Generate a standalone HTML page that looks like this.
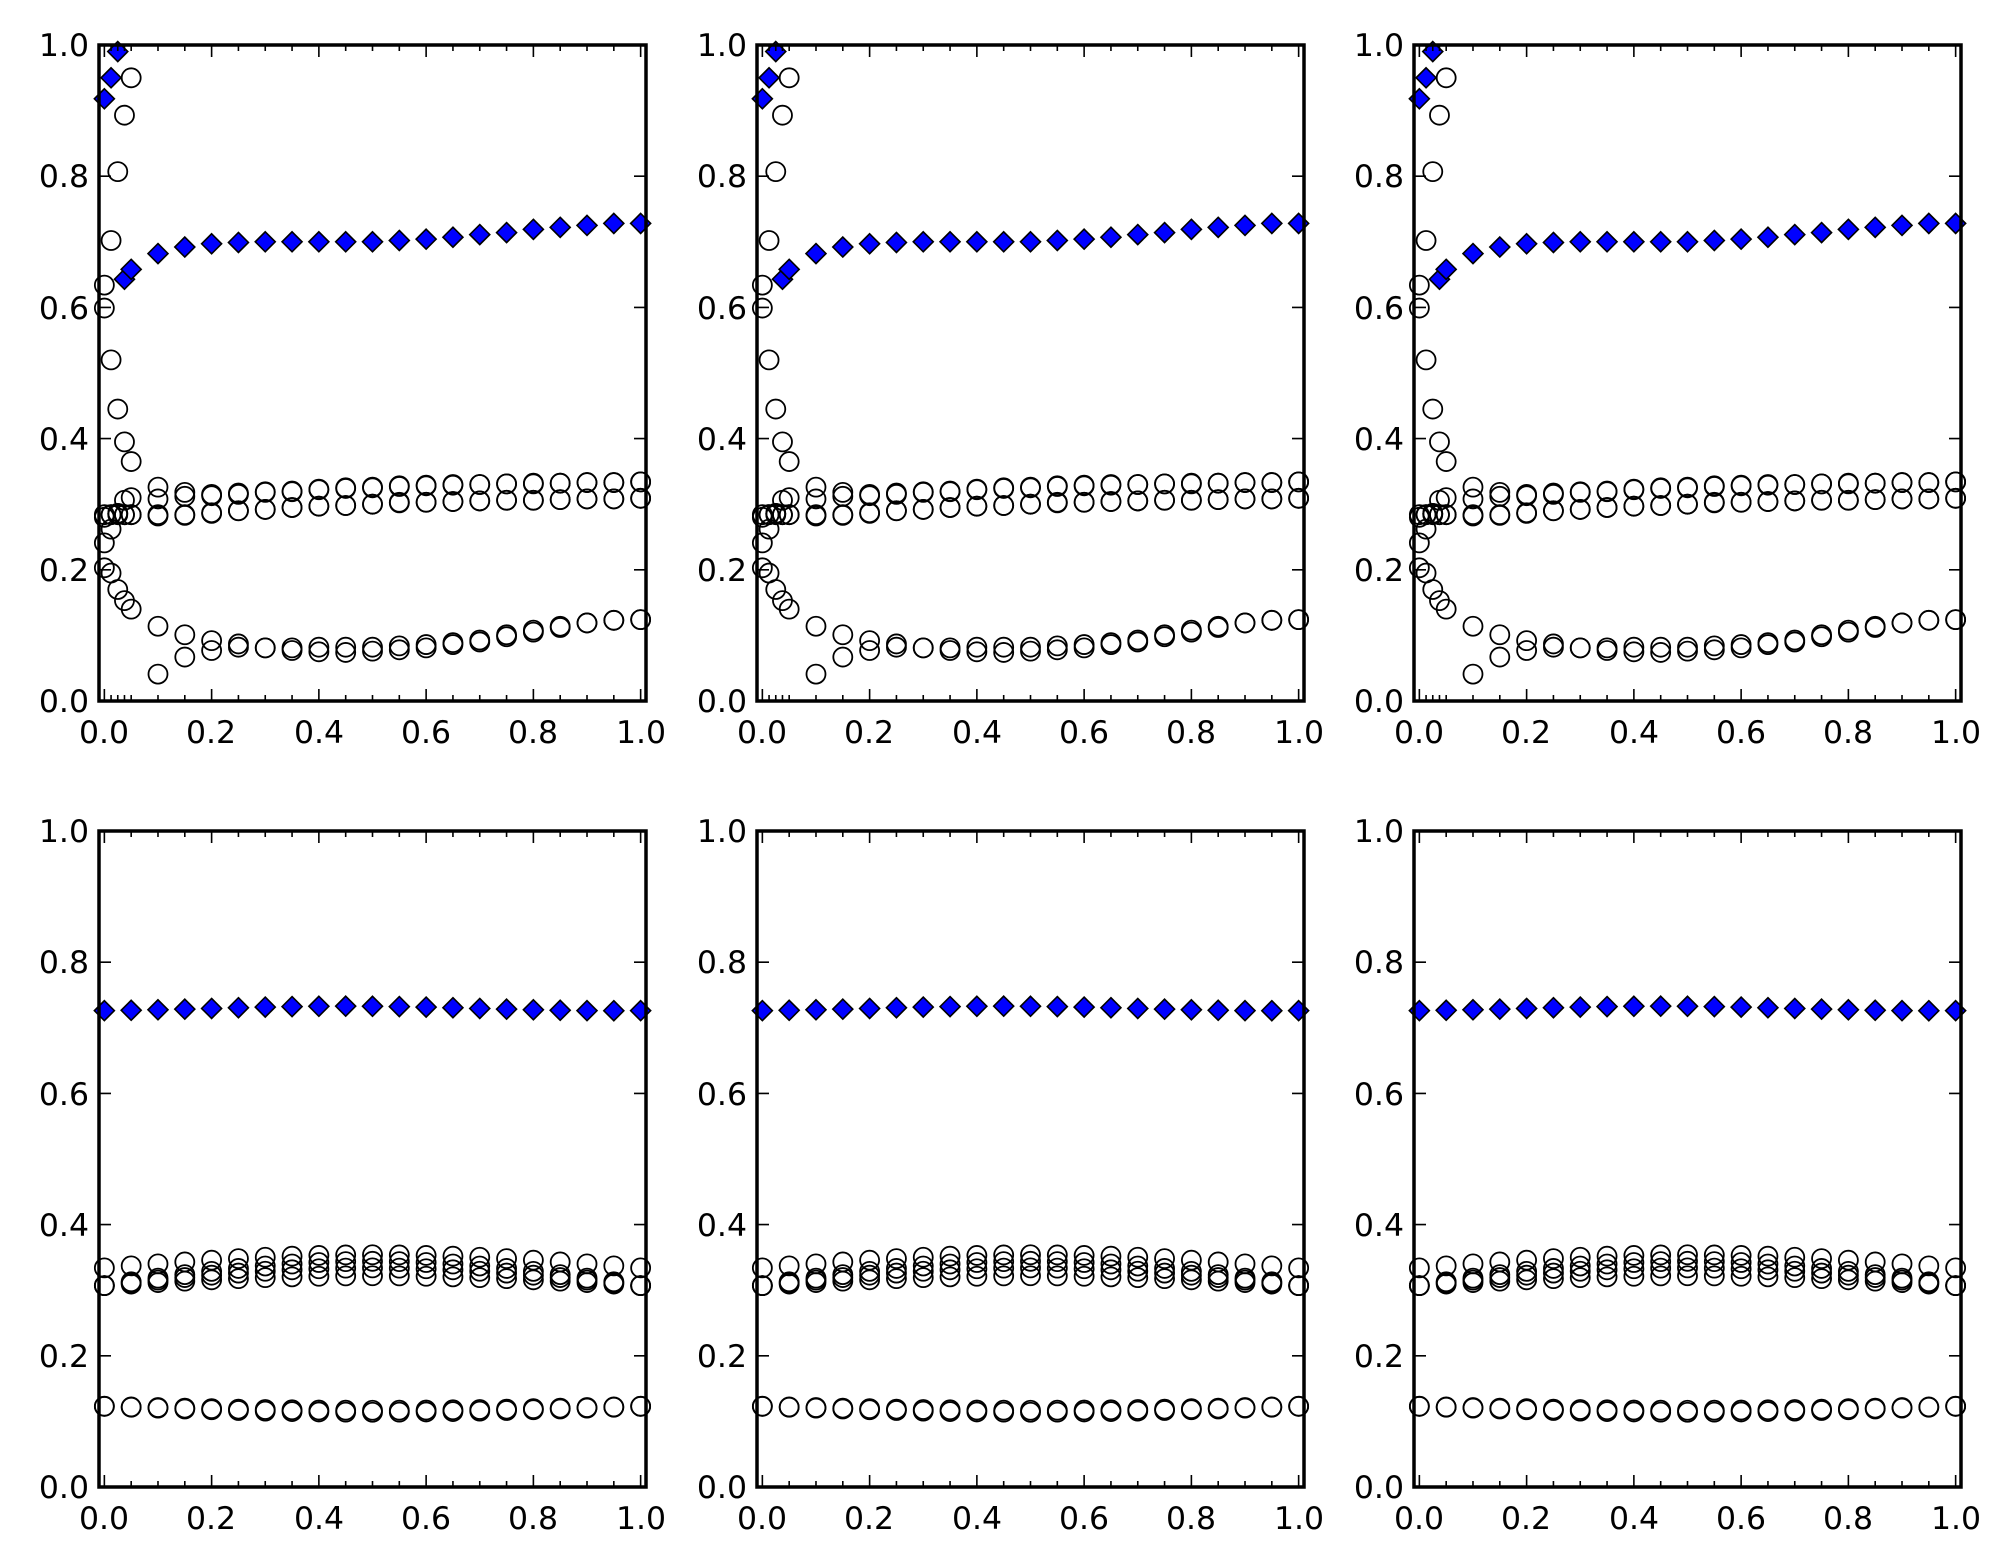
<!DOCTYPE html>
<html><head><meta charset="utf-8"><style>
html,body{margin:0;padding:0;background:#fff;}
svg{display:block;}
text{font-family:"DejaVu Sans","Liberation Sans",sans-serif;font-size:31.5px;fill:#000;}
</style></head><body>
<svg id="s" width="2011" height="1565" viewBox="0 0 2011 1565" xmlns="http://www.w3.org/2000/svg">
<rect width="2011" height="1565" fill="#fff"/>
<g id="p0" transform="translate(99,45)"><g text-anchor="middle"><text x="5" y="698">0.0</text><text x="112" y="698">0.2</text><text x="220" y="698">0.4</text><text x="327" y="698">0.6</text><text x="434" y="698">0.8</text><text x="542" y="698">1.0</text></g><g text-anchor="end"><text x="-10" y="667">0.0</text><text x="-10" y="536">0.2</text><text x="-10" y="405">0.4</text><text x="-10" y="274">0.6</text><text x="-10" y="142">0.8</text><text x="-10" y="11">1.0</text></g></g>
<g id="p1" transform="translate(757,45)"><g text-anchor="middle"><text x="5" y="698">0.0</text><text x="112" y="698">0.2</text><text x="220" y="698">0.4</text><text x="327" y="698">0.6</text><text x="434" y="698">0.8</text><text x="542" y="698">1.0</text></g><g text-anchor="end"><text x="-10" y="667">0.0</text><text x="-10" y="536">0.2</text><text x="-10" y="405">0.4</text><text x="-10" y="274">0.6</text><text x="-10" y="142">0.8</text><text x="-10" y="11">1.0</text></g></g>
<g id="p2" transform="translate(1414,45)"><g text-anchor="middle"><text x="5" y="698">0.0</text><text x="112" y="698">0.2</text><text x="220" y="698">0.4</text><text x="327" y="698">0.6</text><text x="434" y="698">0.8</text><text x="542" y="698">1.0</text></g><g text-anchor="end"><text x="-10" y="667">0.0</text><text x="-10" y="536">0.2</text><text x="-10" y="405">0.4</text><text x="-10" y="274">0.6</text><text x="-10" y="142">0.8</text><text x="-10" y="11">1.0</text></g></g>
<g id="p3" transform="translate(99,831)"><g text-anchor="middle"><text x="5" y="698">0.0</text><text x="112" y="698">0.2</text><text x="220" y="698">0.4</text><text x="327" y="698">0.6</text><text x="434" y="698">0.8</text><text x="542" y="698">1.0</text></g><g text-anchor="end"><text x="-10" y="667">0.0</text><text x="-10" y="536">0.2</text><text x="-10" y="405">0.4</text><text x="-10" y="274">0.6</text><text x="-10" y="142">0.8</text><text x="-10" y="11">1.0</text></g></g>
<g id="p4" transform="translate(757,831)"><g text-anchor="middle"><text x="5" y="698">0.0</text><text x="112" y="698">0.2</text><text x="220" y="698">0.4</text><text x="327" y="698">0.6</text><text x="434" y="698">0.8</text><text x="542" y="698">1.0</text></g><g text-anchor="end"><text x="-10" y="667">0.0</text><text x="-10" y="536">0.2</text><text x="-10" y="405">0.4</text><text x="-10" y="274">0.6</text><text x="-10" y="142">0.8</text><text x="-10" y="11">1.0</text></g></g>
<g id="p5" transform="translate(1414,831)"><g text-anchor="middle"><text x="5" y="698">0.0</text><text x="112" y="698">0.2</text><text x="220" y="698">0.4</text><text x="327" y="698">0.6</text><text x="434" y="698">0.8</text><text x="542" y="698">1.0</text></g><g text-anchor="end"><text x="-10" y="667">0.0</text><text x="-10" y="536">0.2</text><text x="-10" y="405">0.4</text><text x="-10" y="274">0.6</text><text x="-10" y="142">0.8</text><text x="-10" y="11">1.0</text></g></g>
</svg>
<script>
(function(){
var NS="http://www.w3.org/2000/svg",W=547,H=656;
function X(x){return (x+0.01)/1.02*W;}
function Y(y){return H*(1-y);}
function el(g,n,a){var e=document.createElementNS(NS,n);for(var k in a)e.setAttribute(k,a[k]);g.appendChild(e);return e;}
var topX=[0,0.0125,0.025,0.0375,0.05];for(var i=2;i<=20;i++)topX.push(i*0.05);
var botX=[];for(var i=0;i<=20;i++)botX.push(i*0.05);
var topS=[
[0.634,0.702,0.807,0.893,0.95,0.326,0.318,0.315,0.317,0.319,0.32,0.323,0.325,0.326,0.328,0.329,0.33,0.33,0.331,0.332,0.332,0.333,0.333,0.334],
[0.599,0.52,0.445,0.395,0.365,0.308,0.312,0.313,0.315,0.318,0.319,0.322,0.324,0.325,0.327,0.328,0.329,0.33,0.331,0.331,0.332,0.333,0.333,0.334],
[0.284,0.284,0.286,0.284,0.284,0.284,0.284,0.286,0.29,0.292,0.295,0.297,0.298,0.3,0.303,0.303,0.304,0.305,0.306,0.306,0.307,0.308,0.308,0.309],
[0.241,0.262,0.286,0.306,0.31,0.282,0.283,0.287,0.29,0.292,0.295,0.297,0.298,0.3,0.302,0.303,0.304,0.305,0.306,0.306,0.307,0.308,0.308,0.309],
[0.203,0.195,0.17,0.153,0.14,0.114,0.101,0.092,0.087,0.081,0.081,0.082,0.082,0.082,0.084,0.086,0.089,0.093,0.101,0.108,0.114,0.119,0.123,0.124],
[0.28,0.284,0.284,0.284,0.284,0.041,0.067,0.077,0.082,0.081,0.077,0.075,0.074,0.076,0.078,0.081,0.086,0.09,0.098,0.105,0.112,0.119,0.123,0.124]];
var topD=[0.918,0.95,0.99,0.643,0.658,0.682,0.692,0.697,0.699,0.7,0.7,0.7,0.7,0.7,0.702,0.704,0.707,0.711,0.714,0.719,0.722,0.725,0.728,0.728];
var botS=[],botD=[];
var fs=[[0.334,0.02],[0.307,0.037],[0.307,0.027],[0.307,0.015],[0.123,-0.006],[0.123,-0.009]];
fs.forEach(function(f){botS.push(botX.map(function(x){return f[0]+f[1]*Math.sin(Math.PI*x);}));});
botX.forEach(function(x){botD.push(0.7295+0.0035*Math.sin(2*Math.PI*(x-0.2)));});
function draw(id,xs,S,D){
 var g=document.getElementById(id);
 S.forEach(function(s){s.forEach(function(v,i){el(g,"circle",{cx:X(xs[i]),cy:Y(v),r:9.5,fill:"none",stroke:"#000","stroke-width":1.8});});});
 D.forEach(function(v,i){var cx=X(xs[i]),cy=Y(v),r=10;el(g,"polygon",{points:cx+","+(cy-r)+" "+(cx+r)+","+cy+" "+cx+","+(cy+r)+" "+(cx-r)+","+cy,fill:"#0000ff",stroke:"#000","stroke-width":1.6});});
 var t="";
 xs.forEach(function(x){var maj=Math.abs(x*5-Math.round(x*5))<1e-6,L=maj?12:6,px=X(x);t+="M"+px+" "+H+"v-"+L+"M"+px+" 0v"+L;});
 for(var k=0;k<=5;k++){var py=Y(k*0.2);t+="M0 "+py+"h12M"+W+" "+py+"h-12";}
 el(g,"path",{d:t,stroke:"#000","stroke-width":1.6,fill:"none"});
 el(g,"rect",{x:0,y:0,width:W,height:H,fill:"none",stroke:"#000","stroke-width":3.5});
}
["p0","p1","p2"].forEach(function(id){draw(id,topX,topS,topD);});
["p3","p4","p5"].forEach(function(id){draw(id,botX,botS,botD);});
})();
</script>
</body></html>
